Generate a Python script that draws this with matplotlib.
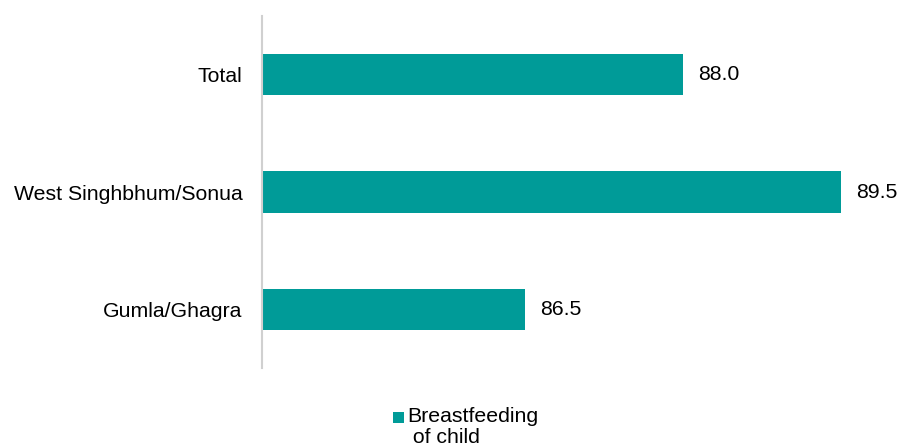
import matplotlib.pyplot as plt
from matplotlib.patches import Rectangle

plt.rcParams['font.family'] = ['Liberation Sans', 'DejaVu Sans']

categories = ["Total", "West Singhbhum/Sonua", "Gumla/Ghagra"]
values = [88.0, 89.5, 86.5]
series_name = "Breastfeeding\n of child"
color = "#009B98"

W, H = 899, 448
fig = plt.figure(figsize=(W / 100, H / 100), dpi=100)
ax = fig.add_axes([262 / W, 80 / H, 632 / W, 352 / H])

y = list(range(len(categories)))
ax.barh(y, values, height=0.35, color=color, left=0)
ax.set_xlim(84, 90)
ax.set_ylim(len(categories) - 0.5, -0.5)
ax.set_yticks(y)
ax.set_yticklabels(categories, fontsize=15.3)
ax.tick_params(axis='y', length=0, pad=14)
ax.set_xticks([])
for s in ["top", "right", "bottom"]:
    ax.spines[s].set_visible(False)
ax.spines["left"].set_color("#d0d0d0")
ax.spines["left"].set_linewidth(1.5)

for yi, v in zip(y, values):
    ax.text(v + 0.14, yi, f"{v:.1f}", va="center", ha="left", fontsize=15.3)

# legend: square key beside the first line of a two-line label
fig.add_artist(Rectangle((393 / W, 1 - 423 / H), 10.5 / W, 11 / H,
                         transform=fig.transFigure, facecolor=color,
                         edgecolor="none"))
fig.text(407 / W, 1 - 407 / H, series_name, ha="left", va="top",
         fontsize=15.3, linespacing=1.15)

fig.savefig("out.png", dpi=100)
